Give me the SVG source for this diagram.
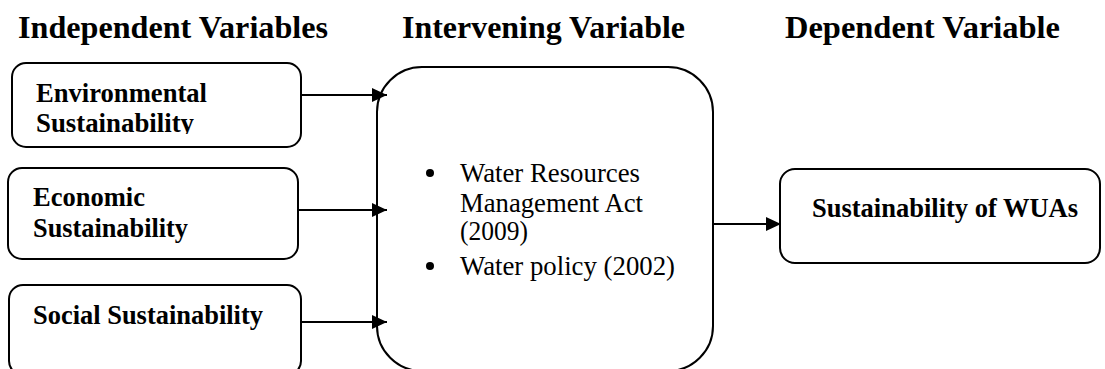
<svg xmlns="http://www.w3.org/2000/svg" width="1105" height="369" viewBox="0 0 1105 369">
<style>
.box{fill:#fff;stroke:#000;stroke-width:2}
.h{font-family:"Liberation Serif",serif;font-weight:bold;font-size:31.5px;fill:#000}
.b{font-family:"Liberation Serif",serif;font-weight:bold;font-size:26.5px;fill:#000}
.r{font-family:"Liberation Serif",serif;font-size:26.5px;fill:#000}
.conn{stroke:#000;stroke-width:2;fill:none}
</style>
<defs>
<marker id="ah" markerUnits="userSpaceOnUse" markerWidth="16" markerHeight="14" refX="15" refY="7" orient="auto">
<path d="M0,0 L15,7 L0,14 Z" fill="#000"/>
</marker>
<clipPath id="clip1"><rect x="0" y="0" width="400" height="134"/></clipPath>
</defs>
<rect width="1105" height="369" fill="#fff"/>
<g id="headings">
<text class="h" x="18" y="38" textLength="310" lengthAdjust="spacingAndGlyphs">Independent Variables</text>
<text class="h" x="402" y="38" textLength="283" lengthAdjust="spacingAndGlyphs">Intervening Variable</text>
<text class="h" x="785" y="38" textLength="275" lengthAdjust="spacingAndGlyphs">Dependent Variable</text>
</g>
<g id="environmental">
<rect class="box" x="12" y="63" width="289" height="84" rx="14"/>
<text class="b" x="36" y="102" textLength="171" lengthAdjust="spacingAndGlyphs">Environmental</text>
<text class="b" x="36" y="132" textLength="158" lengthAdjust="spacingAndGlyphs" clip-path="url(#clip1)">Sustainability</text>
</g>
<g id="economic">
<rect class="box" x="8" y="168" width="290" height="91" rx="14"/>
<text class="b" x="33" y="206" textLength="112" lengthAdjust="spacingAndGlyphs">Economic</text>
<text class="b" x="33" y="237" textLength="155" lengthAdjust="spacingAndGlyphs">Sustainability</text>
</g>
<g id="social">
<rect class="box" x="9" y="285" width="292" height="90" rx="14"/>
<text class="b" x="33" y="324" textLength="230" lengthAdjust="spacingAndGlyphs">Social Sustainability</text>
</g>
<g id="intervening">
<rect class="box" x="377" y="67" width="336" height="304" rx="45"/>
<circle cx="430" cy="173" r="4"/>
<circle cx="430" cy="266" r="4"/>
<text class="r" x="460" y="182" textLength="180" lengthAdjust="spacingAndGlyphs">Water Resources</text>
<text class="r" x="460" y="212" textLength="183" lengthAdjust="spacingAndGlyphs">Management Act</text>
<text class="r" x="460" y="240" textLength="68" lengthAdjust="spacingAndGlyphs">(2009)</text>
<text class="r" x="460" y="275" textLength="215" lengthAdjust="spacingAndGlyphs">Water policy (2002)</text>
</g>
<g id="wuas">
<rect class="box" x="780" y="169" width="320" height="94" rx="15"/>
<text class="b" x="812" y="217" textLength="266" lengthAdjust="spacingAndGlyphs">Sustainability of WUAs</text>
</g>
<g id="connectors">
<line class="conn" x1="302" y1="95" x2="387" y2="95" marker-end="url(#ah)"/>
<line class="conn" x1="299" y1="210" x2="387" y2="210" marker-end="url(#ah)"/>
<line class="conn" x1="302" y1="322" x2="387" y2="322" marker-end="url(#ah)"/>
<line class="conn" x1="713" y1="224" x2="781" y2="224" stroke-width="3" marker-end="url(#ah)"/>
</g>
</svg>
